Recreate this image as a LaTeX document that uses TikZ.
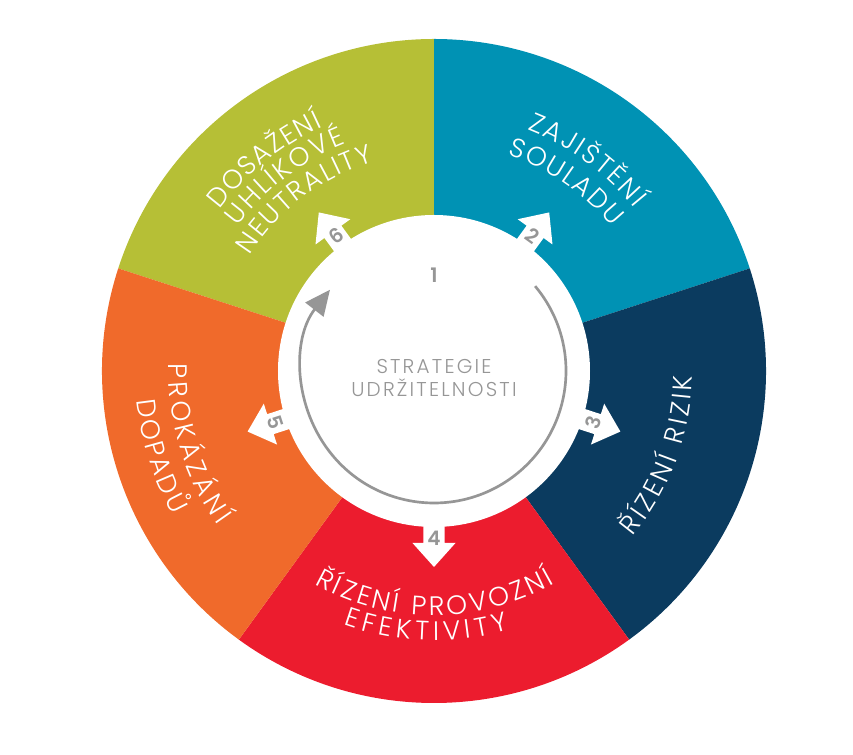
\documentclass[tikz,border=0pt]{standalone}
\usepackage{fontspec}
\usetikzlibrary{arrows.meta,decorations.text}
\newfontfamily\wheelfont{Poppins}[UprightFont=* Light]
\newfontfamily\hubfont{Poppins}[UprightFont=* Light, LetterSpace=11]
\newfontfamily\numfont{Poppins}[UprightFont=* SemiBold]
\newcommand{\seglabelfont}{\wheelfont\fontsize{20}{20}\selectfont}

\begin{document}
\begin{tikzpicture}[x=0.75pt,y=0.75pt,
  steparrow/.style={fill=white,draw=none},
  steplabel/.style={font=\numfont\fontsize{15}{15}\selectfont,text={rgb, 255:red, 150; green, 150; blue, 150 },inner sep=0},
  hublabel/.style={font=\hubfont\fontsize{15}{17}\selectfont,text={rgb, 255:red, 150; green, 150; blue, 150 },align=center},
  ringtext/.style={decorate,decoration={text along path,text align=fit to path,text format delimiters={|}{|},text={|\seglabelfont\color{white}|#1}}}]
\useasboundingbox (-434,-384) rectangle (419,371);

%Shape: Sector green
\fill [color={rgb, 255:red, 182; green, 191; blue, 54 }] (0,0) -- (90:332) arc (90:162:332) -- cycle;
%Shape: Sector blue
\fill [color={rgb, 255:red, 0; green, 146; blue, 180 }] (0,0) -- (18:332) arc (18:90:332) -- cycle;
%Shape: Sector navy
\fill [color={rgb, 255:red, 11; green, 59; blue, 95 }] (0,0) -- (-54:332) arc (-54:18:332) -- cycle;
%Shape: Sector red
\fill [color={rgb, 255:red, 236; green, 28; blue, 46 }] (0,0) -- (-126:332) arc (-126:-54:332) -- cycle;
%Shape: Sector orange
\fill [color={rgb, 255:red, 240; green, 106; blue, 43 }] (0,0) -- (162:332) arc (162:234:332) -- cycle;

%Shape: Circle hub
\fill [white] (0,0) circle (156);

%Block arrows
\fill [steparrow,rotate=126] (150,-10.5) -- (172,-10.5) -- (172,-21.5) -- (196,0) -- (172,21.5) -- (172,10.5) -- (150,10.5) -- cycle;
\fill [steparrow,rotate=54] (150,-10.5) -- (172,-10.5) -- (172,-21.5) -- (196,0) -- (172,21.5) -- (172,10.5) -- (150,10.5) -- cycle;
\fill [steparrow,rotate=-18] (150,-10.5) -- (172,-10.5) -- (172,-21.5) -- (196,0) -- (172,21.5) -- (172,10.5) -- (150,10.5) -- cycle;
\fill [steparrow,rotate=-90] (150,-10.5) -- (172,-10.5) -- (172,-21.5) -- (196,0) -- (172,21.5) -- (172,10.5) -- (150,10.5) -- cycle;
\fill [steparrow,rotate=198] (150,-10.5) -- (172,-10.5) -- (172,-21.5) -- (196,0) -- (172,21.5) -- (172,10.5) -- (150,10.5) -- cycle;

%Step numbers
\node [steplabel] (n1) at (0,96) {1};
\node [steplabel,rotate=-36] (n2) at (54:167) {2};
\node [steplabel,rotate=72] (n3) at (-18:167) {3};
\node [steplabel] (n4) at (-90:167) {4};
\node [steplabel,rotate=-72] (n5) at (198:167) {5};
\node [steplabel,rotate=36] (n6) at (126:167) {6};

%Curve Lines cycle
\draw [color={rgb, 255:red, 150; green, 150; blue, 150 },line width=2,-{Triangle[length=19pt,width=17pt]}] (40:132) arc (40:-218:132);

%Hub text
\node [hublabel] (strategy) at (0,-7) {STRATEGIE\\UDRŽITELNOSTI};

%Segment texts
\path [ringtext=DOSAŽENÍ] (143:268.5) arc (143:114.5:268.5);
\path [ringtext=UHLÍKOVÉ] (143.7:243.5) arc (143.7:111.1:243.5);
\path [ringtext=NEUTRALITY] (147.9:217.5) arc (147.9:106.1:217.5);
\path [ringtext=ZAJIŠTĚNÍ] (68.9:258.5) arc (68.9:39.1:258.5);
\path [ringtext=SOULADU] (71.2:228.5) arc (71.2:39:228.5);
\path [ringtext=ŘÍZENÍ RIZIK] (-39.8:258.5) arc (-39.8:-1.1:258.5);
\path [ringtext=ŘÍZENÍ PROVOZNÍ] (-119.3:244.5) arc (-119.3:-60.4:244.5);
\path [ringtext=EFEKTIVITY] (-109.6:269.5) arc (-109.6:-73.9:269.5);
\path [ringtext=PROKÁZÁNÍ] (178.4:265.5) arc (178.4:215.5:265.5);
\path [ringtext=DOPADŮ] (185.6:298.5) arc (185.6:208.8:298.5);

\end{tikzpicture}
\end{document}
